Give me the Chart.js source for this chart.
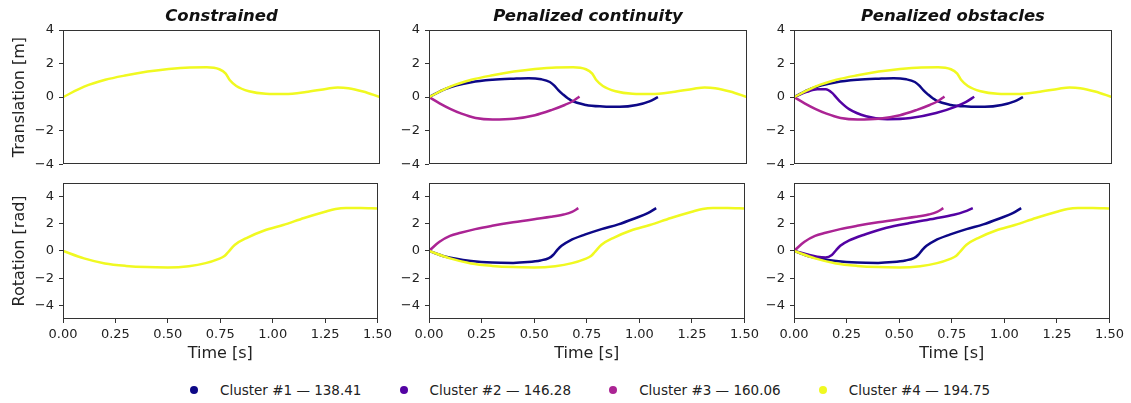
<!DOCTYPE html>
<html><head><meta charset="utf-8">
<script src="https://cdn.jsdelivr.net/npm/chart.js@4.4.1/dist/chart.umd.min.js"></script>
<style>
html,body{margin:0;padding:0;background:#fff;}
#wrap{position:relative;width:1131px;height:403px;overflow:hidden;font-family:"DejaVu Sans",sans-serif;background:#fff;}
#wrap canvas{position:absolute;}
#legend{position:absolute;left:190px;top:381px;display:flex;height:18px;align-items:center;}
.item{display:flex;align-items:center;width:209.6px;font-size:13.5px;color:#222;white-space:nowrap;}
.dot{width:8px;height:8px;border-radius:50%;margin-right:22px;flex:none;}
</style></head><body>
<div id="wrap"><div id="legend"></div></div>
<script>
// ---------- data ----------
const clusterNames = ['Cluster #1 \u2014 138.41', 'Cluster #2 \u2014 146.28', 'Cluster #3 \u2014 160.06', 'Cluster #4 \u2014 194.75'];
const clusterColors = ['#0d0887', '#5302a3', '#ab2494', '#f0f921'];
const panelTitles = ['Constrained', 'Penalized continuity', 'Penalized obstacles'];
const panelClusters = [[3], [0, 2, 3], [0, 1, 2, 3]];
const rowLabels = ['Translation [m]', 'Rotation [rad]'];
const xLabel = 'Time [s]';
const xTicks = [0, 0.25, 0.5, 0.75, 1.0, 1.25, 1.5];
const yTicks = [-4, -2, 0, 2, 4];

// Cluster #1
const t1 =     [0, 0.08, 0.2, 0.3, 0.4, 0.47, 0.53, 0.57, 0.59, 0.61, 0.63, 0.67, 0.74, 0.82, 0.9, 0.98, 1.04, 1.08];
const trans1 = [0, 0.5, 0.88, 1.03, 1.1, 1.13, 1.06, 0.9, 0.7, 0.42, 0.18, -0.2, -0.47, -0.56, -0.58, -0.47, -0.25, 0.0];
const rot1 =   [0, -0.43, -0.74, -0.86, -0.88, -0.82, -0.7, -0.53, -0.3, 0.08, 0.38, 0.76, 1.19, 1.6, 1.95, 2.4, 2.77, 3.14];
// Cluster #2
const t2 =     [0, 0.06, 0.11, 0.15, 0.18, 0.2, 0.22, 0.26, 0.34, 0.44, 0.55, 0.67, 0.76, 0.81, 0.85];
const trans2 = [0, 0.31, 0.47, 0.47, 0.25, -0.03, -0.3, -0.72, -1.14, -1.32, -1.25, -0.95, -0.58, -0.3, 0.02];
const rot2 =   [0, -0.24, -0.42, -0.48, -0.3, 0.05, 0.38, 0.75, 1.22, 1.7, 2.05, 2.38, 2.65, 2.88, 3.14];
// Cluster #3
const t3 =     [0, 0.05, 0.1, 0.15, 0.22, 0.3, 0.4, 0.5, 0.58, 0.64, 0.68, 0.71];
const trans3 = [0, -0.37, -0.7, -0.97, -1.24, -1.33, -1.29, -1.08, -0.76, -0.47, -0.23, 0.03];
const rot3 =   [0, 0.67, 1.1, 1.33, 1.6, 1.84, 2.1, 2.33, 2.5, 2.67, 2.86, 3.14];
// Cluster #4
const t4 =     [0, 0.1, 0.2, 0.3, 0.4, 0.5, 0.6, 0.68, 0.74, 0.77, 0.79, 0.82, 0.88, 0.96, 1.05, 1.15, 1.25, 1.3, 1.35, 1.42, 1.5];
const trans4 = [0, 0.62, 1.03, 1.3, 1.52, 1.68, 1.77, 1.78, 1.66, 1.4, 1.0, 0.66, 0.35, 0.2, 0.18, 0.3, 0.5, 0.57, 0.53, 0.33, 0];
const rot4 =   [0, -0.55, -0.92, -1.1, -1.19, -1.21, -1.12, -0.9, -0.6, -0.38, -0.05, 0.45, 0.98, 1.5, 1.9, 2.42, 2.88, 3.08, 3.15, 3.15, 3.12];

const clusterT = [t1, t2, t3, t4];
const clusterTrans = [trans1, trans2, trans3, trans4];
const clusterRot = [rot1, rot2, rot3, rot4];

// ---------- layout ----------
const colPlotLeft = [63, 429, 794];
const colPlotRight = [380, 747, 1112];
const colAxisW = [63, 45, 45];
const FONT = '"DejaVu Sans", sans-serif';
const TXT = '#222';

const framePlugin = {
  id: 'frame',
  afterDatasetsDraw(chart) {
    const {ctx, chartArea: a} = chart;
    ctx.save();
    ctx.strokeStyle = '#333';
    ctx.lineWidth = 1;
    ctx.strokeRect(Math.round(a.left) + 0.5, Math.round(a.top) + 0.5, Math.round(a.width) - 1, Math.round(a.height) - 1);
    ctx.restore();
  }
};
const panelTitlePlugin = {
  id: 'panelTitle',
  afterDraw(chart, args, opts) {
    if (!opts.text) return;
    const {ctx, chartArea: a} = chart;
    ctx.save();
    ctx.font = 'italic bold 16.5px ' + FONT;
    ctx.fillStyle = '#111';
    ctx.textAlign = 'center';
    ctx.textBaseline = 'middle';
    ctx.fillText(opts.text, (a.left + a.right) / 2, 16.5);
    ctx.restore();
  }
};

const wrap = document.getElementById('wrap');
function fmtY(v) { return v < 0 ? '\u2212' + Math.abs(v) : String(v); }

for (let row = 0; row < 2; row++) {
  for (let col = 0; col < 3; col++) {
    const top = row === 0 ? 0 : 170;
    const padTop = row === 0 ? 30 : 11;
    const padBottom = row === 0 ? 9 : 0;
    const xAxisH = row === 0 ? 0 : 45;
    const height = padTop + 138 + padBottom + xAxisH;
    const left = colPlotLeft[col] - colAxisW[col];
    const width = colPlotRight[col] - left + 16;
    const cv = document.createElement('canvas');
    cv.width = width; cv.height = height;
    cv.style.left = left + 'px'; cv.style.top = top + 'px';
    cv.style.width = width + 'px'; cv.style.height = height + 'px';
    wrap.appendChild(cv);

    const vals = row === 0 ? clusterTrans : clusterRot;
    const ids = panelClusters[col].slice().reverse(); // later clusters on top
    const datasets = ids.map(k => ({
      label: clusterNames[k],
      data: clusterT[k].map((t, i) => ({x: t, y: vals[k][i]})),
      borderColor: clusterColors[k],
      backgroundColor: clusterColors[k],
      borderWidth: 2.5,
      pointRadius: 0,
      fill: false,
      cubicInterpolationMode: 'monotone'
    }));

    const yW = colAxisW[col];
    new Chart(cv, {
      type: 'line',
      data: {datasets},
      plugins: [framePlugin, panelTitlePlugin],
      options: {
        responsive: false,
        animation: false,
        devicePixelRatio: 1,
        layout: {padding: {left: 0, right: 16, top: padTop, bottom: padBottom}},
        plugins: {
          legend: {display: false},
          tooltip: {enabled: false},
          panelTitle: {text: row === 0 ? panelTitles[col] : ''}
        },
        scales: {
          x: {
            type: 'linear', min: 0, max: 1.5,
            display: row === 1,
            afterBuildTicks: s => { s.ticks = xTicks.map(v => ({value: v})); },
            afterFit: s => { s.height = xAxisH; },
            grid: {drawOnChartArea: false, drawTicks: true, tickLength: 4, color: '#333'},
            border: {display: false},
            ticks: {autoSkip: false, maxRotation: 0, padding: 4, color: TXT,
                    font: {family: FONT, size: 13}, callback: v => Number(v).toFixed(2)},
            title: {display: true, text: xLabel, color: TXT, font: {family: FONT, size: 16},
                    padding: {top: 0, bottom: 0.5}}
          },
          y: {
            type: 'linear',
            min: row === 0 ? -4 : -5, max: row === 0 ? 4 : 5,
            afterBuildTicks: s => { s.ticks = yTicks.map(v => ({value: v})); },
            afterFit: s => { s.width = yW; },
            grid: {drawOnChartArea: false, drawTicks: true, tickLength: 4, color: '#333'},
            border: {display: false},
            ticks: {padding: 5, color: TXT, font: {family: FONT, size: 13}, callback: v => fmtY(v)},
            title: {display: col === 0, text: rowLabels[row], color: TXT,
                    font: {family: FONT, size: 16}, padding: {top: 10.4, bottom: 0}}
          }
        }
      }
    });
  }
}

// legend
const lg = document.getElementById('legend');
clusterNames.forEach((name, k) => {
  const it = document.createElement('div');
  it.className = 'item';
  const d = document.createElement('span');
  d.className = 'dot';
  d.style.background = clusterColors[k];
  const s = document.createElement('span');
  s.textContent = name;
  it.appendChild(d); it.appendChild(s);
  lg.appendChild(it);
});
</script>
</body></html>
